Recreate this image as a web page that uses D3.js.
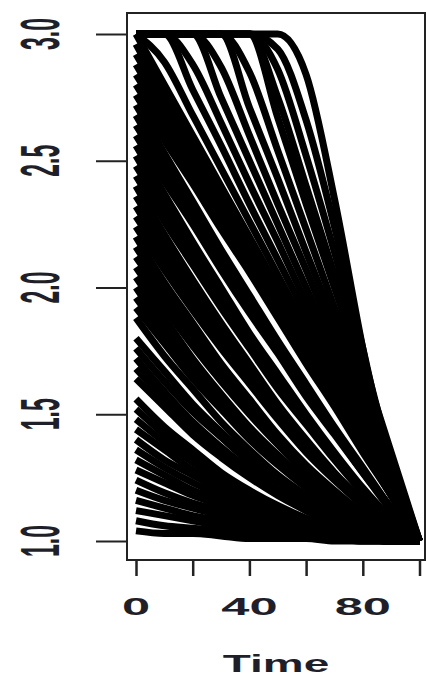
<!DOCTYPE html>
<html>
<head>
<meta charset="utf-8">
<script src="https://cdn.jsdelivr.net/npm/d3@7"></script>
<style>
  body { margin: 0; background: #fff; }
  svg { display: block; }
  .lbl { font-family: "Liberation Sans", Arial, sans-serif; font-size: 23px; font-weight: bold; fill: #1f1f2a; }
</style>
</head>
<body>
<svg id="chart" width="426" height="679"></svg>
<script>
// time points shared by every series
const times = [0, 10, 20, 30, 40, 50, 60, 70, 80, 90, 100];

// series that start below 3 and decay towards 1
const decaySeries = [
  [1.04, 1.03, 1.03, 1.02, 1.01, 1.01, 1.01, 1.00, 1.00, 1.00, 1.00],
  [1.08, 1.06, 1.05, 1.04, 1.03, 1.02, 1.01, 1.01, 1.00, 1.00, 1.00],
  [1.12, 1.10, 1.08, 1.06, 1.04, 1.03, 1.02, 1.01, 1.00, 1.00, 1.00],
  [1.16, 1.13, 1.10, 1.08, 1.06, 1.04, 1.03, 1.01, 1.01, 1.00, 1.00],
  [1.20, 1.16, 1.13, 1.10, 1.07, 1.05, 1.03, 1.02, 1.01, 1.00, 1.00],
  [1.24, 1.19, 1.15, 1.12, 1.09, 1.06, 1.04, 1.02, 1.01, 1.00, 1.00],
  [1.28, 1.23, 1.18, 1.14, 1.10, 1.07, 1.04, 1.03, 1.01, 1.00, 1.00],
  [1.32, 1.26, 1.20, 1.16, 1.12, 1.08, 1.05, 1.03, 1.01, 1.00, 1.00],
  [1.36, 1.29, 1.23, 1.18, 1.13, 1.09, 1.06, 1.03, 1.01, 1.00, 1.00],
  [1.40, 1.32, 1.26, 1.20, 1.14, 1.10, 1.06, 1.04, 1.02, 1.00, 1.00],
  [1.44, 1.36, 1.28, 1.22, 1.16, 1.11, 1.07, 1.04, 1.02, 1.00, 1.00],
  [1.48, 1.39, 1.31, 1.24, 1.17, 1.12, 1.08, 1.04, 1.02, 1.00, 1.00],
  [1.52, 1.42, 1.33, 1.25, 1.19, 1.13, 1.08, 1.05, 1.02, 1.01, 1.00],
  [1.56, 1.45, 1.36, 1.27, 1.20, 1.14, 1.09, 1.05, 1.02, 1.01, 1.00],
  [1.64, 1.53, 1.42, 1.33, 1.25, 1.18, 1.12, 1.07, 1.03, 1.01, 1.00],
  [1.68, 1.56, 1.45, 1.35, 1.26, 1.19, 1.12, 1.07, 1.03, 1.01, 1.00],
  [1.72, 1.59, 1.47, 1.37, 1.28, 1.20, 1.13, 1.08, 1.04, 1.01, 1.00],
  [1.76, 1.63, 1.51, 1.41, 1.31, 1.23, 1.15, 1.09, 1.05, 1.01, 1.00],
  [1.80, 1.67, 1.54, 1.43, 1.33, 1.24, 1.16, 1.10, 1.05, 1.01, 1.00],
  [1.88, 1.73, 1.60, 1.47, 1.36, 1.26, 1.18, 1.11, 1.05, 1.02, 1.00],
  [1.92, 1.78, 1.64, 1.52, 1.40, 1.30, 1.21, 1.13, 1.07, 1.02, 1.00],
  [1.96, 1.81, 1.67, 1.54, 1.42, 1.31, 1.22, 1.14, 1.07, 1.02, 1.00],
  [2.00, 1.84, 1.70, 1.56, 1.44, 1.33, 1.23, 1.14, 1.08, 1.03, 1.00],
  [2.04, 1.88, 1.72, 1.58, 1.45, 1.34, 1.24, 1.15, 1.08, 1.03, 1.00],
  [2.08, 1.92, 1.77, 1.63, 1.50, 1.38, 1.27, 1.18, 1.10, 1.03, 1.00],
  [2.12, 1.96, 1.80, 1.66, 1.52, 1.40, 1.28, 1.18, 1.10, 1.04, 1.00],
  [2.16, 1.99, 1.83, 1.68, 1.54, 1.41, 1.29, 1.19, 1.10, 1.04, 1.00],
  [2.20, 2.02, 1.86, 1.70, 1.56, 1.42, 1.30, 1.20, 1.11, 1.04, 1.00],
  [2.24, 2.07, 1.91, 1.76, 1.62, 1.48, 1.35, 1.24, 1.14, 1.05, 1.00],
  [2.28, 2.11, 1.94, 1.78, 1.64, 1.50, 1.37, 1.25, 1.14, 1.06, 1.00],
  [2.32, 2.14, 1.97, 1.81, 1.66, 1.51, 1.38, 1.25, 1.15, 1.06, 1.00],
  [2.36, 2.18, 2.00, 1.83, 1.68, 1.53, 1.39, 1.26, 1.15, 1.06, 1.00],
  [2.40, 2.21, 2.03, 1.86, 1.70, 1.54, 1.40, 1.27, 1.16, 1.06, 1.00],
  [2.44, 2.26, 2.09, 1.92, 1.76, 1.60, 1.46, 1.32, 1.19, 1.08, 1.00],
  [2.48, 2.30, 2.12, 1.95, 1.78, 1.62, 1.47, 1.33, 1.20, 1.08, 1.00],
  [2.52, 2.33, 2.15, 1.97, 1.80, 1.64, 1.48, 1.34, 1.20, 1.09, 1.00],
  [2.56, 2.37, 2.18, 2.00, 1.82, 1.66, 1.50, 1.35, 1.21, 1.09, 1.00],
  [2.60, 2.42, 2.25, 2.07, 1.90, 1.74, 1.57, 1.42, 1.27, 1.12, 1.00],
  [2.64, 2.46, 2.28, 2.10, 1.92, 1.75, 1.59, 1.43, 1.27, 1.13, 1.00],
  [2.68, 2.49, 2.31, 2.13, 1.95, 1.77, 1.60, 1.44, 1.28, 1.13, 1.00],
  [2.72, 2.53, 2.34, 2.15, 1.97, 1.79, 1.62, 1.45, 1.29, 1.13, 1.00],
  [2.76, 2.58, 2.41, 2.23, 2.06, 1.88, 1.70, 1.53, 1.35, 1.18, 1.00],
  [2.80, 2.62, 2.44, 2.26, 2.08, 1.90, 1.72, 1.54, 1.36, 1.18, 1.00],
  [2.84, 2.66, 2.47, 2.29, 2.10, 1.92, 1.74, 1.55, 1.37, 1.18, 1.00],
  [2.88, 2.69, 2.50, 2.32, 2.13, 1.94, 1.75, 1.56, 1.38, 1.19, 1.00],
  [2.92, 2.73, 2.54, 2.34, 2.15, 1.96, 1.77, 1.58, 1.38, 1.19, 1.00],
  [2.96, 2.76, 2.57, 2.37, 2.18, 1.98, 1.78, 1.59, 1.39, 1.20, 1.00]
];

// series held at the cap of 3 before falling to 1
const plateauSeries = [
  [3, 2.80, 2.60, 2.40, 2.20, 2.00, 1.80, 1.60, 1.40, 1.20, 1.00],
  [3, 2.89, 2.68, 2.47, 2.26, 2.05, 1.84, 1.63, 1.42, 1.21, 1.00],
  [3, 3, 2.78, 2.56, 2.33, 2.11, 1.89, 1.67, 1.44, 1.22, 1.00],
  [3, 3, 2.88, 2.65, 2.41, 2.18, 1.94, 1.71, 1.47, 1.24, 1.00],
  [3, 3, 3, 2.75, 2.50, 2.25, 2.00, 1.75, 1.50, 1.25, 1.00],
  [3, 3, 3, 2.87, 2.60, 2.33, 2.07, 1.80, 1.53, 1.27, 1.00],
  [3, 3, 3, 3, 2.71, 2.43, 2.14, 1.86, 1.57, 1.29, 1.00],
  [3, 3, 3, 3, 2.85, 2.54, 2.23, 1.92, 1.62, 1.31, 1.00],
  [3, 3, 3, 3, 3, 2.67, 2.33, 2.00, 1.67, 1.33, 1.00],
  [3, 3, 3, 3, 3, 2.75, 2.40, 2.05, 1.70, 1.35, 1.00],
  [3, 3, 3, 3, 3, 2.86, 2.52, 2.14, 1.74, 1.32, 1.00],
  [3, 3, 3, 3, 3, 2.94, 2.66, 2.24, 1.76, 1.28, 1.00],
  [3, 3, 3, 3, 3, 3, 2.84, 2.35, 1.76, 1.24, 1.00]
];

const yTicks = [1.0, 1.5, 2.0, 2.5, 3.0];
const yTickLabels = ["1.0", "1.5", "2.0", "2.5", "3.0"];
const xTicks = [0, 20, 40, 60, 80, 100];
const xTickLabels = ["0", "", "40", "", "80", ""];
const xTitle = "Time";

const svg = d3.select('#chart');

// plot box (R draws it a bit wider than the data range)
const box = { left: 127, top: 13, right: 425, bottom: 560 };

const x = d3.scaleLinear().domain([0, 100]).range([136, 419.5]);
const y = d3.scaleLinear().domain([1, 3]).range([541, 34]);

const line = d3.line()
    .x((d, i) => x(times[i]))
    .y(d => y(d))
    .curve(d3.curveMonotoneX);

// all trajectories, drawn in black
svg.append('g')
    .selectAll('path')
    .data(plateauSeries.concat(decaySeries))
    .enter()
    .append('path')
    .attr('d', line)
    .attr('fill', 'none')
    .attr('stroke', '#000')
    .attr('stroke-width', 7);

// box round the plot
svg.append('rect')
    .attr('x', box.left)
    .attr('y', box.top)
    .attr('width', box.right - box.left)
    .attr('height', box.bottom - box.top)
    .attr('fill', 'none')
    .attr('stroke', '#222')
    .attr('stroke-width', 2);

// y axis ticks
svg.append('g')
    .attr('transform', `translate(${box.left},0)`)
    .call(d3.axisLeft(y).tickValues(yTicks).tickSize(31).tickFormat(''))
    .call(g => g.select('.domain').remove())
    .selectAll('line')
    .attr('stroke', '#222')
    .attr('stroke-width', 2);

// x axis ticks
svg.append('g')
    .attr('transform', `translate(0,${box.bottom})`)
    .call(d3.axisBottom(x).tickValues(xTicks).tickSize(16).tickFormat(''))
    .call(g => g.select('.domain').remove())
    .selectAll('line')
    .attr('stroke', '#222')
    .attr('stroke-width', 2.5);

// the picture is stretched sideways, so are its labels
svg.append('g')
    .selectAll('text')
    .data(yTicks)
    .enter()
    .append('text')
    .attr('class', 'lbl')
    .attr('text-anchor', 'middle')
    .attr('transform', d => `translate(59,${y(d)}) scale(2.4,1) rotate(-90)`)
    .text((d, i) => yTickLabels[i]);

svg.append('g')
    .selectAll('text')
    .data(xTicks)
    .enter()
    .append('text')
    .attr('class', 'lbl')
    .attr('text-anchor', 'middle')
    .attr('transform', d => `translate(${x(d)},615) scale(2.2,1)`)
    .text((d, i) => xTickLabels[i]);

svg.append('text')
    .attr('class', 'lbl')
    .attr('text-anchor', 'middle')
    .attr('transform', `translate(${(box.left + box.right) / 2},672) scale(2.0,1)`)
    .text(xTitle);
</script>
</body>
</html>
